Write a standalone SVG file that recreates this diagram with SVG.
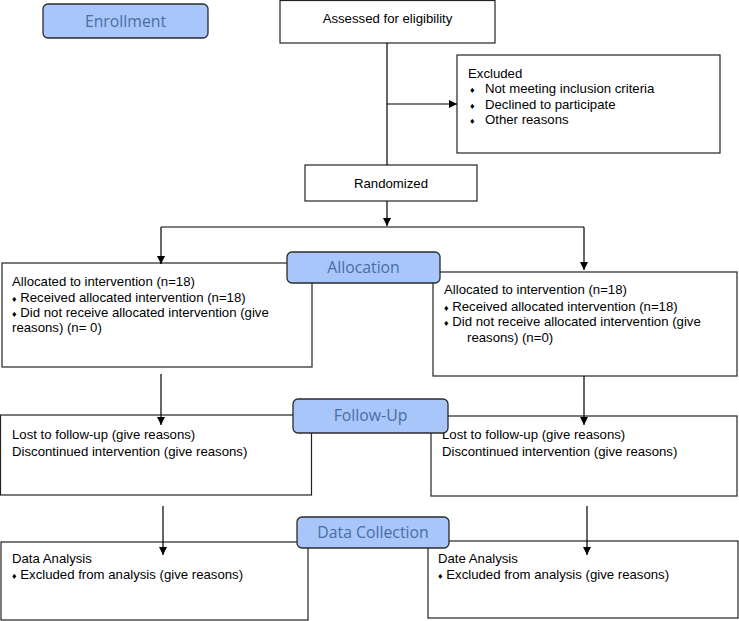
<svg xmlns="http://www.w3.org/2000/svg" width="739" height="621" viewBox="0 0 739 621">
<defs>
<marker id="arr" viewBox="0 0 10 10" refX="10" refY="5" markerWidth="8" markerHeight="8" markerUnits="userSpaceOnUse" orient="auto">
<path d="M0,0 L10,5 L0,10 z" fill="#000"/>
</marker>
<style>
.box{fill:#fff;stroke:#222;stroke-width:1.2}
.lab{fill:#a9c6fb;stroke:#2a2a2a;stroke-width:1.3}
.lt{font-family:"Open Sans","Noto Sans",sans-serif;font-size:15.8px;fill:#4a6da3;text-anchor:middle}
.t{font-family:"Liberation Sans",Arial,sans-serif;font-size:13.2px;fill:#000}
.b{font-size:9px}
.c line{stroke:#000;stroke-width:1.2}
</style>
</defs>
<rect width="739" height="621" fill="#fff"/>
<g id="assessed">
<rect class="box" x="280" y="0.5" width="215" height="42.5"/>
<text class="t" x="387.5" y="23" text-anchor="middle">Assessed for eligibility</text>
</g>
<g id="excluded">
<rect class="box" x="457" y="55" width="263" height="98"/>
<text class="t" x="468" y="78">Excluded</text>
<text class="t" x="470" y="93"><tspan class="b">♦</tspan><tspan x="485">Not meeting inclusion criteria</tspan></text>
<text class="t" x="470" y="109"><tspan class="b">♦</tspan><tspan x="485">Declined to participate</tspan></text>
<text class="t" x="470" y="124"><tspan class="b">♦</tspan><tspan x="485">Other reasons</tspan></text>
</g>
<g id="randomized">
<rect class="box" x="305" y="165" width="172" height="36"/>
<text class="t" x="391" y="188" text-anchor="middle">Randomized</text>
</g>
<g id="alloc-left">
<rect class="box" x="2" y="263" width="310" height="104"/>
<text class="t" x="12" y="286">Allocated to intervention (n=18)</text>
<text class="t" x="12" y="302"><tspan class="b">♦</tspan><tspan> Received allocated intervention (n=18)</tspan></text>
<text class="t" x="12" y="317"><tspan class="b">♦</tspan><tspan> Did not receive allocated intervention (give</tspan></text>
<text class="t" x="12" y="332">reasons) (n= 0)</text>
</g>
<g id="alloc-right">
<rect class="box" x="433" y="272" width="304" height="104"/>
<text class="t" x="444" y="294">Allocated to intervention (n=18)</text>
<text class="t" x="444" y="311"><tspan class="b">♦</tspan><tspan> Received allocated intervention (n=18)</tspan></text>
<text class="t" x="444" y="326"><tspan class="b">♦</tspan><tspan> Did not receive allocated intervention (give</tspan></text>
<text class="t" x="467" y="342">reasons) (n=0)</text>
</g>
<g id="follow-left">
<rect class="box" x="0.5" y="415" width="311" height="80"/>
<text class="t" x="12" y="439">Lost to follow-up (give reasons)</text>
<text class="t" x="12" y="456">Discontinued intervention (give reasons)</text>
</g>
<g id="follow-right">
<rect class="box" x="431" y="416" width="306" height="80"/>
<text class="t" x="442" y="439">Lost to follow-up (give reasons)</text>
<text class="t" x="442" y="456">Discontinued intervention (give reasons)</text>
</g>
<g id="data-left">
<rect class="box" x="1" y="542" width="307" height="78"/>
<text class="t" x="12" y="563">Data Analysis</text>
<text class="t" x="12" y="579"><tspan class="b">♦</tspan><tspan> Excluded from analysis (give reasons)</tspan></text>
</g>
<g id="data-right">
<rect class="box" x="428" y="541" width="310" height="77"/>
<text class="t" x="438" y="563">Date Analysis</text>
<text class="t" x="438" y="579"><tspan class="b">♦</tspan><tspan> Excluded from analysis (give reasons)</tspan></text>
</g>
<g id="enrollment">
<rect class="lab" x="43" y="4" width="165" height="34" rx="5"/>
<text class="lt" x="125.5" y="27">Enrollment</text>
</g>
<g id="allocation">
<rect class="lab" x="287" y="252" width="153" height="31" rx="5"/>
<text class="lt" x="363.5" y="273">Allocation</text>
</g>
<g id="followup">
<rect class="lab" x="293" y="399" width="155" height="34" rx="5"/>
<text class="lt" x="370.5" y="421">Follow-Up</text>
</g>
<g id="datacollection">
<rect class="lab" x="297" y="517" width="152" height="31" rx="5"/>
<text class="lt" x="373" y="538">Data Collection</text>
</g>
<g class="c" id="connectors">
<line x1="387" y1="43" x2="387" y2="165"/>
<line x1="387" y1="104" x2="457" y2="104" marker-end="url(#arr)"/>
<line x1="387" y1="201" x2="387" y2="226" marker-end="url(#arr)"/>
<line x1="161" y1="227" x2="584" y2="227"/>
<line x1="161" y1="227" x2="161" y2="264" marker-end="url(#arr)"/>
<line x1="584" y1="227" x2="584" y2="270" marker-end="url(#arr)"/>
<line x1="161" y1="374" x2="161" y2="425" marker-end="url(#arr)"/>
<line x1="584" y1="376" x2="584" y2="425" marker-end="url(#arr)"/>
<line x1="163" y1="506" x2="163" y2="555" marker-end="url(#arr)"/>
<line x1="587" y1="506" x2="587" y2="555" marker-end="url(#arr)"/>
</g>
</svg>
